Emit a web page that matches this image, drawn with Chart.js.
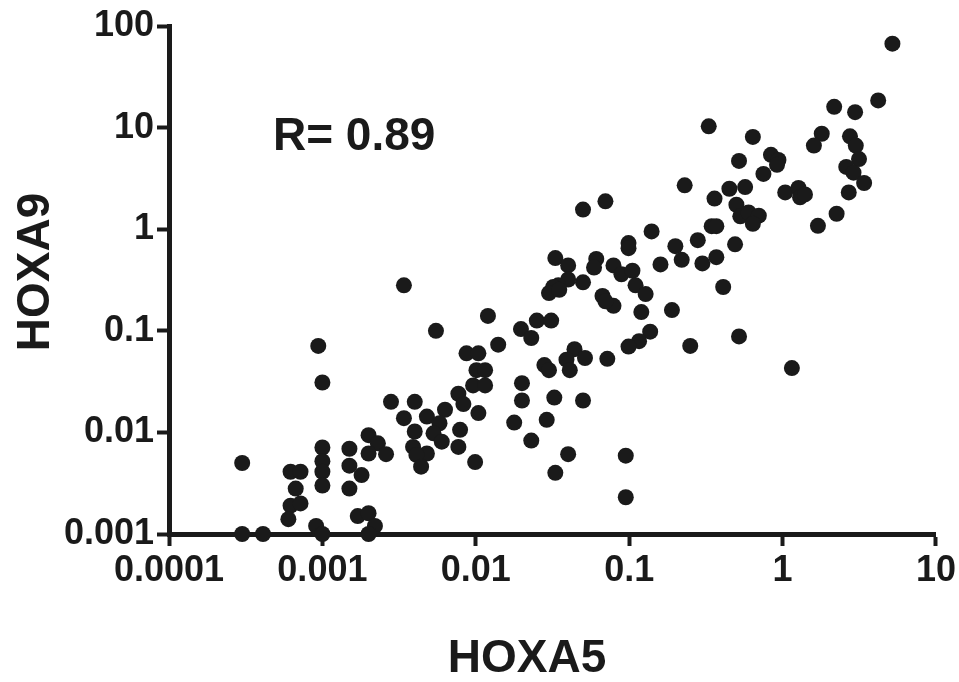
<!DOCTYPE html>
<html>
<head>
<meta charset="utf-8">
<script src="https://cdn.jsdelivr.net/npm/chart.js@4.4.1/dist/chart.umd.min.js"></script>
<style>
html,body{margin:0;padding:0;background:#fff;}
#wrap{width:959px;height:682px;position:relative;}
</style>
</head>
<body>
<div id="wrap"><canvas id="c" width="959" height="682"></canvas></div>
<script>
// ---- data ----
const xTitle = 'HOXA5';
const yTitle = 'HOXA9';
const annotation = 'R= 0.89';
const xTicks = [0.0001, 0.001, 0.01, 0.1, 1, 10];
const xTickLabels = ['0.0001', '0.001', '0.01', '0.1', '1', '10'];
const yTicks = [0.001, 0.01, 0.1, 1, 10, 100];
const yTickLabels = ['0.001', '0.01', '0.1', '1', '10', '100'];

const hoxa5 = [
  0.0034,0.012,0.0055,0.014,0.00094,0.001,0.0087,0.0104,0.0101,0.0115,
  0.0096,0.0115,0.0077,0.0083,0.0104,0.0028,0.004,0.0034,0.0048,0.004,
  0.0063,0.0058,0.0079,0.0053,0.006,0.0039,0.0048,0.0041,0.0044,0.0077,
  0.0099,0.002,0.0023,0.002,0.0026,0.0015,0.0015,0.0018,0.0015,0.001,
  0.001,0.001,0.001,0.0003,0.00062,0.00072,0.00067,0.00062,0.00072,0.0006,
  0.00091,0.001,0.0003,0.00041,0.0017,0.002,0.0022,0.002,
  0.23,0.05,0.07,0.14,0.099,0.099,0.2,0.16,0.22,0.033,
  0.04,0.061,0.059,0.079,0.089,0.105,0.11,0.128,0.05,0.04,
  0.0345,0.032,0.03,0.035,0.067,0.079,0.07,0.12,0.19,0.137,
  0.116,0.099,0.25,0.0197,0.023,0.025,0.031,0.044,0.039,0.0515,
  0.041,0.028,0.03,0.072,0.02,0.02,0.0325,0.05,0.0178,0.029,
  0.023,0.04,0.033,0.095,0.095,
  5.2,4.2,2.17,2.97,0.33,0.64,1.8,1.6,2.75,3.0,
  3.15,2.6,2.9,3.4,2.7,0.52,0.84,0.94,0.92,0.75,
  0.45,0.57,0.36,1.04,1.27,1.3,1.4,2.25,1.7,0.5,
  0.53,0.6,0.7,0.64,0.345,0.37,0.28,0.49,0.37,0.3,
  0.41,0.52,1.15
];
const hoxa9 = [
  0.28,0.14,0.1,0.073,0.071,0.031,0.06,0.06,0.041,0.041,
  0.029,0.029,0.024,0.019,0.0155,0.02,0.02,0.0138,0.0143,0.0102,
  0.0167,0.0123,0.0106,0.0098,0.0081,0.0072,0.0062,0.006,0.0046,0.0072,
  0.0051,0.0094,0.0078,0.0062,0.0061,0.0069,0.0047,0.0038,0.0028,0.0071,
  0.0052,0.0041,0.003,0.005,0.0041,0.0041,0.0028,0.0019,0.002,0.0014,
  0.0012,0.001,0.001,0.001,0.0015,0.0016,0.0012,0.001,
  2.7,1.56,1.88,0.95,0.73,0.65,0.68,0.45,0.5,0.52,
  0.44,0.51,0.42,0.44,0.36,0.39,0.28,0.23,0.3,0.32,
  0.28,0.27,0.235,0.253,0.22,0.176,0.195,0.153,0.16,0.098,
  0.079,0.07,0.071,0.104,0.085,0.126,0.126,0.066,0.052,0.054,
  0.041,0.046,0.041,0.053,0.0305,0.0206,0.022,0.0206,0.0125,0.0133,
  0.0083,0.0061,0.004,0.0059,0.0023,
  67,18.5,16,14.2,10.3,8.1,8.7,6.65,8.2,6.65,
  4.9,4.1,3.6,2.85,2.3,4.7,5.4,4.8,4.3,3.5,
  2.5,2.6,2.0,2.3,2.55,2.06,2.2,1.42,1.08,1.74,
  1.34,1.46,1.36,1.13,1.07,1.07,0.78,0.71,0.53,0.46,
  0.27,0.088,0.043
];

// ---- chart ----
const INK = '#1a1a1a';
const tickFont = {family: "'Liberation Sans', Arial, sans-serif", size: 36, weight: 'bold', lineHeight: 1.2};
const titleFont = "bold 46px 'Liberation Sans', Arial, sans-serif";

const textPlugin = {
  id: 'texts',
  afterDraw(chart) {
    const ctx = chart.ctx;
    ctx.save();
    ctx.fillStyle = INK;
    ctx.font = titleFont;
    ctx.textBaseline = 'alphabetic';
    ctx.textAlign = 'left';
    ctx.fillText(annotation, 273, 150);
    ctx.textAlign = 'center';
    ctx.fillText(xTitle, 527, 672);
    ctx.translate(49, 272);
    ctx.rotate(-Math.PI / 2);
    ctx.fillText(yTitle, 0, 0);
    ctx.restore();
  }
};

new Chart(document.getElementById('c'), {
  type: 'scatter',
  data: {
    datasets: [{
      data: hoxa5.map((x, i) => ({x: x, y: hoxa9[i]})),
      backgroundColor: INK,
      borderColor: INK,
      borderWidth: 0,
      pointRadius: 8,
      pointHoverRadius: 8,
      clip: false
    }]
  },
  options: {
    responsive: false,
    animation: false,
    devicePixelRatio: 1,
    layout: {padding: {left: 0, right: 23, top: 26, bottom: 0}},
    plugins: {legend: {display: false}, tooltip: {enabled: false}},
    scales: {
      x: {
        type: 'logarithmic',
        min: 0.0001, max: 10,
        afterBuildTicks: s => { s.ticks = xTicks.map(v => ({value: v})); },
        afterFit: s => { s.height = 148; },
        ticks: {
          callback: v => xTickLabels[xTicks.indexOf(v)],
          color: INK, font: tickFont, padding: 3, maxRotation: 0, autoSkip: false
        },
        grid: {display: true, drawOnChartArea: false, drawTicks: true, tickLength: 12, tickWidth: 4, tickColor: INK},
        border: {display: true, width: 5, color: INK}
      },
      y: {
        type: 'logarithmic',
        min: 0.001, max: 100,
        afterBuildTicks: s => { s.ticks = yTicks.map(v => ({value: v})); },
        afterFit: s => { s.width = 169; },
        ticks: {
          callback: v => yTickLabels[yTicks.indexOf(v)],
          color: INK, font: tickFont, padding: 3, autoSkip: false
        },
        grid: {display: true, drawOnChartArea: false, drawTicks: true, tickLength: 12, tickWidth: 4, tickColor: INK},
        border: {display: true, width: 5, color: INK}
      }
    }
  },
  plugins: [textPlugin]
});
</script>
</body>
</html>
